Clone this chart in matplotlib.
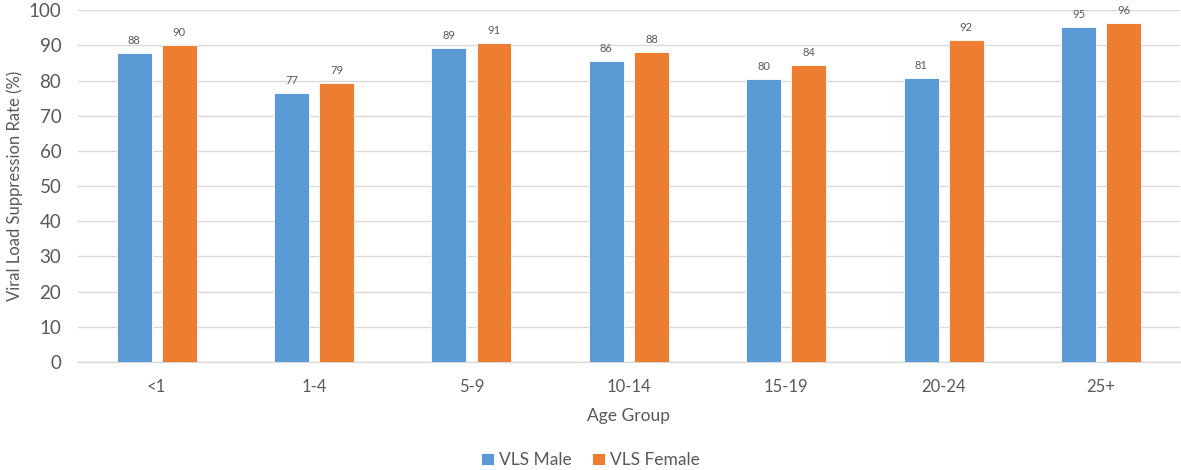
import numpy as np
import matplotlib
matplotlib.use("Agg")
import matplotlib.pyplot as plt

# Data
age_groups = ["<1", "1-4", "5-9", "10-14", "15-19", "20-24", "25+"]
vls_male = [87.9, 76.4, 89.2, 85.7, 80.4, 80.8, 95.2]
vls_female = [90.2, 79.4, 90.8, 88.1, 84.4, 91.7, 96.5]
male_labels = ["88", "77", "89", "86", "80", "81", "95"]
female_labels = ["90", "79", "91", "88", "84", "92", "96"]

plt.rcParams['font.family'] = ['Lato', 'DejaVu Sans']
text_color = "#595959"
grid_color = "#D9D9D9"

fig = plt.figure(figsize=(11.81, 4.70), dpi=100)
ax = fig.add_axes([0.066, 0.23, 0.933, 0.748])

x = np.arange(len(age_groups))
w = 0.222
off = 0.143
b1 = ax.bar(x - off, vls_male, w, color="#5B9BD5", edgecolor="white", linewidth=0.6,
            label="VLS Male", zorder=3)
b2 = ax.bar(x + off, vls_female, w, color="#ED7D31", edgecolor="white", linewidth=0.6,
            label="VLS Female", zorder=3)

for bars, labels in ((b1, male_labels), (b2, female_labels)):
    for rect, lab in zip(bars, labels):
        ax.annotate(lab, (rect.get_x() + rect.get_width() / 2, rect.get_height()),
                    xytext=(0, 5), textcoords="offset points", ha="center", va="bottom",
                    fontsize=8, color=text_color)

ax.set_xlim(-0.5, len(age_groups) - 0.5)
ax.set_ylim(0, 100)
ax.set_yticks(range(0, 101, 10))
ax.set_xticks(x)
ax.set_xticklabels(age_groups)
ax.tick_params(axis="both", length=0, colors=text_color)
ax.tick_params(axis="y", labelsize=13.5, pad=12)
ax.tick_params(axis="x", labelsize=12, pad=12)
ax.yaxis.grid(True, color=grid_color, linewidth=1, zorder=0)
ax.set_axisbelow(True)
for s in ["top", "right", "left"]:
    ax.spines[s].set_visible(False)
ax.spines["bottom"].set_color(grid_color)
ax.spines["bottom"].set_linewidth(1)

ax.set_xlabel("Age Group", fontsize=12.5, color=text_color, labelpad=10)
ax.set_ylabel("Viral Load Suppression Rate (%)", fontsize=12, color=text_color, labelpad=4)

leg = fig.legend(handles=[b1, b2], loc="lower center", bbox_to_anchor=(0.5, -0.03), ncol=2,
                 frameon=False, fontsize=12.5, handlelength=0.7, handleheight=0.7,
                 handletextpad=0.3, columnspacing=1.2)
for t in leg.get_texts():
    t.set_color(text_color)

fig.savefig("out.png", dpi=100)
